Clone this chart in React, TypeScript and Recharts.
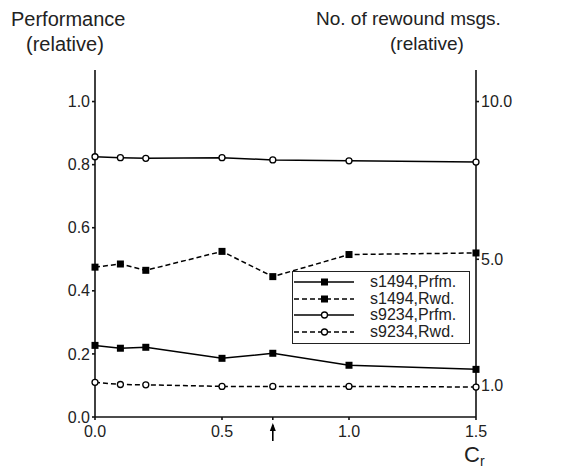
import React from "react";
import { LineChart, Line, XAxis, YAxis } from "recharts";

const cr = [0, 0.1, 0.2, 0.5, 0.7, 1.0, 1.5];
const s1494Prfm = [0.227, 0.218, 0.221, 0.186, 0.202, 0.164, 0.151];
const s1494Rwd = [4.75, 4.85, 4.65, 5.25, 4.45, 5.15, 5.2];
const s9234Prfm = [0.825, 0.822, 0.82, 0.822, 0.815, 0.812, 0.808];
const s9234Rwd = [1.1, 1.03, 1.02, 0.97, 0.97, 0.97, 0.95];

const xTicks = [0, 0.5, 0.7, 1.0, 1.5];
const arrowAt = 0.7;
const leftTicks = [0, 0.2, 0.4, 0.6, 0.8, 1.0];
const rightTicks = [1, 5, 10];

const seriesNames = ["s1494,Prfm.", "s1494,Rwd.", "s9234,Prfm.", "s9234,Rwd."];

const data = cr.map((c, i) => ({
  cr: c,
  p1494: s1494Prfm[i],
  r1494: s1494Rwd[i],
  p9234: s9234Prfm[i],
  r9234: s9234Rwd[i],
}));

const FONT = "'Liberation Sans', Arial, sans-serif";

const Square = (props: any) => {
  const { cx, cy } = props;
  if (cx == null || cy == null) return null;
  return <rect x={cx - 3.5} y={cy - 3.5} width={7} height={7} fill="#000" />;
};

const Circle = (props: any) => {
  const { cx, cy } = props;
  if (cx == null || cy == null) return null;
  return <circle cx={cx} cy={cy} r={3} fill="#fff" stroke="#000" strokeWidth={1.3} />;
};

const XTick = (props: any) => {
  const { x, y, payload } = props;
  if (payload.value === arrowAt) {
    return (
      <g>
        <line x1={x} y1={y + 2} x2={x} y2={y + 18} stroke="#000" strokeWidth={1.6} />
        <path d={`M${x - 3},${y + 8} L${x},${y} L${x + 3},${y + 8} Z`} fill="#000" />
      </g>
    );
  }
  return (
    <text x={x} y={y} dy="0.85em" textAnchor="middle" fontSize={16} fontFamily={FONT} fill="#222">
      {payload.value.toFixed(1)}
    </text>
  );
};

const LegendBox = () => (
  <div
    style={{
      position: "absolute",
      left: 292,
      top: 271,
      border: "1.5px solid #222",
      width: 176,
      padding: "2px 0 3px 0",
      background: "#fff",
      fontFamily: FONT,
      fontSize: 16,
      color: "#222",
    }}
  >
    {seriesNames.map((name, i) => (
      <div key={name} style={{ display: "flex", alignItems: "center", height: 16.5 }}>
        <svg width={64} height={12} style={{ marginLeft: 1 }}>
          <line
            x1={0}
            y1={6}
            x2={60}
            y2={6}
            stroke="#000"
            strokeWidth={1.4}
            strokeDasharray={i % 2 === 1 ? "5 3" : undefined}
          />
          {i < 2 ? (
            <rect x={27} y={2.5} width={7} height={7} fill="#000" />
          ) : (
            <circle cx={30.5} cy={6} r={3} fill="#fff" stroke="#000" strokeWidth={1.3} />
          )}
        </svg>
        <span style={{ marginLeft: 12 }}>{name}</span>
      </div>
    ))}
  </div>
);

export default function App() {
  return (
    <div style={{ position: "absolute", left: 0, top: 0, width: 563, height: 468, background: "#fff" }}>
      <div style={{ position: "absolute", left: 11, top: 8, fontFamily: FONT, fontSize: 20, color: "#222" }}>
        Performance
      </div>
      <div style={{ position: "absolute", left: 26, top: 33, fontFamily: FONT, fontSize: 20, color: "#222" }}>
        (relative)
      </div>
      <div style={{ position: "absolute", left: 316, top: 8, fontFamily: FONT, fontSize: 19, color: "#222" }}>
        No. of rewound msgs.
      </div>
      <div style={{ position: "absolute", left: 390, top: 33, fontFamily: FONT, fontSize: 19, color: "#222" }}>
        (relative)
      </div>
      <LineChart width={563} height={468} data={data} margin={{ top: 70, right: 0, bottom: 0, left: 0 }}>
        <XAxis
          xAxisId="bottom"
          dataKey="cr"
          type="number"
          domain={[0, 1.5]}
          ticks={xTicks}
          tick={<XTick />}
          tickSize={3}
          tickMargin={3}
          height={51}
          stroke="#111"
          strokeWidth={1.6}
          interval={0}
        />
        <XAxis xAxisId="top" orientation="top" dataKey="cr" type="number" domain={[0, 1.5]} tick={false} height={0} stroke="#111" strokeWidth={1.6} />
        <YAxis
          yAxisId="left"
          domain={[0, 1.1]}
          ticks={leftTicks}
          tickFormatter={(v: number) => v.toFixed(1)}
          width={95}
          tickSize={3}
          tickMargin={2}
          stroke="#111"
          strokeWidth={1.6}
          tick={{ fontSize: 16, fontFamily: FONT, fill: "#222" }}
          interval={0}
        />
        <YAxis
          yAxisId="right"
          orientation="right"
          domain={[0, 11]}
          ticks={rightTicks}
          tickFormatter={(v: number) => v.toFixed(1)}
          width={87}
          tickSize={3}
          tickMargin={2}
          stroke="#111"
          strokeWidth={1.6}
          tick={{ fontSize: 16, fontFamily: FONT, fill: "#222" }}
          interval={0}
        />
        <Line xAxisId="bottom" yAxisId="left" dataKey="p1494" name={seriesNames[0]} stroke="#000" strokeWidth={1.5} dot={<Square />} isAnimationActive={false} />
        <Line xAxisId="bottom" yAxisId="right" dataKey="r1494" name={seriesNames[1]} stroke="#000" strokeWidth={1.5} strokeDasharray="5 3" dot={<Square />} isAnimationActive={false} />
        <Line xAxisId="bottom" yAxisId="left" dataKey="p9234" name={seriesNames[2]} stroke="#000" strokeWidth={1.5} dot={<Circle />} isAnimationActive={false} />
        <Line xAxisId="bottom" yAxisId="right" dataKey="r9234" name={seriesNames[3]} stroke="#000" strokeWidth={1.5} strokeDasharray="5 3" dot={<Circle />} isAnimationActive={false} />
      </LineChart>
      <LegendBox />
      <div style={{ position: "absolute", left: 464, top: 444, fontFamily: FONT, fontSize: 22, lineHeight: "22px", color: "#222" }}>
        C<span style={{ fontSize: 14, position: "relative", top: 4 }}>r</span>
      </div>
    </div>
  );
}
